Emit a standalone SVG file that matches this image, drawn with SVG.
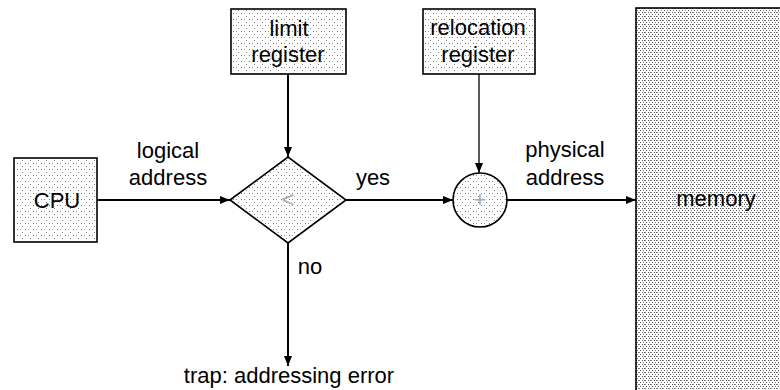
<svg xmlns="http://www.w3.org/2000/svg" width="780" height="390" viewBox="0 0 780 390">
<style>
.t{font-family:"Liberation Sans",Arial,sans-serif;font-size:22px;fill:#000;text-anchor:middle}
.faint{font-family:"Liberation Sans",Arial,sans-serif;font-size:22px;fill:#aaa;text-anchor:middle}
.box{stroke:#000;stroke-width:1.6}
.lt{fill:url(#stip)}
.dk{fill:url(#dense)}
.c{stroke:#000;stroke-width:2;fill:none}
.c1{stroke:#000;stroke-width:1.3;fill:none}
</style>
<defs>
<pattern id="stip" width="8" height="6" patternUnits="userSpaceOnUse">
<rect width="8" height="6" fill="#fff"/>
<rect x="1" y="1" width="1" height="1" fill="#777"/>
<rect x="4" y="1" width="1" height="1" fill="#888"/>
<rect x="6" y="4" width="1" height="1" fill="#888"/>
</pattern>
<pattern id="dense" width="6" height="4" patternUnits="userSpaceOnUse">
<rect width="6" height="4" fill="#fff"/>
<rect x="0" y="0" width="1" height="1" fill="#555"/>
<rect x="2" y="0" width="1" height="1" fill="#666"/>
<rect x="3" y="0" width="1" height="1" fill="#888"/>
<rect x="4" y="2" width="1" height="1" fill="#555"/>
<rect x="1" y="2" width="1" height="1" fill="#777"/>
</pattern>
<marker id="ah" markerWidth="10" markerHeight="8" refX="10" refY="4" orient="auto" markerUnits="userSpaceOnUse">
<path d="M0,0 L10,4 L0,8 Z" fill="#000"/>
</marker>
</defs>

<g id="connectors">
<line class="c" x1="97" y1="200" x2="230" y2="200" marker-end="url(#ah)"/>
<line class="c" x1="288" y1="74" x2="288" y2="157" marker-end="url(#ah)"/>
<line class="c" x1="346" y1="200" x2="453" y2="200" marker-end="url(#ah)"/>
<line class="c1" x1="479" y1="74" x2="479" y2="173" marker-end="url(#ah)"/>
<line class="c" x1="506" y1="200" x2="636" y2="200" marker-end="url(#ah)"/>
<line class="c" x1="288" y1="243" x2="288" y2="366" marker-end="url(#ah)"/>
<text class="t" x="168" y="158">logical</text>
<text class="t" x="168" y="185">address</text>
<text class="t" x="373" y="185">yes</text>
<text class="t" x="565" y="157">physical</text>
<text class="t" x="565" y="185">address</text>
<text class="t" x="310" y="274">no</text>
<text class="t" x="289" y="383">trap: addressing error</text>
</g>

<g id="cpu">
<rect class="box lt" x="14" y="158" width="83" height="84"/>
<text class="t" x="57" y="208">CPU</text>
</g>

<g id="limit-register">
<rect class="box lt" x="231" y="9" width="115" height="65"/>
<text class="t" x="289" y="36">limit</text>
<text class="t" x="288" y="62">register</text>
</g>

<g id="compare">
<polygon class="box lt" points="230,200 288,157 346,200 288,243"/>
<text class="faint" x="288" y="207">&lt;</text>
</g>

<g id="relocation-register">
<rect class="box lt" x="423" y="9" width="112" height="65"/>
<text class="t" x="478" y="35">relocation</text>
<text class="t" x="478" y="62">register</text>
</g>

<g id="adder">
<circle class="box lt" cx="480" cy="200" r="27"/>
<text class="faint" x="480" y="207">+</text>
</g>

<g id="memory">
<rect class="box dk" x="636" y="8" width="150" height="390"/>
<text class="t" x="716" y="206">memory</text>
</g>
</svg>
